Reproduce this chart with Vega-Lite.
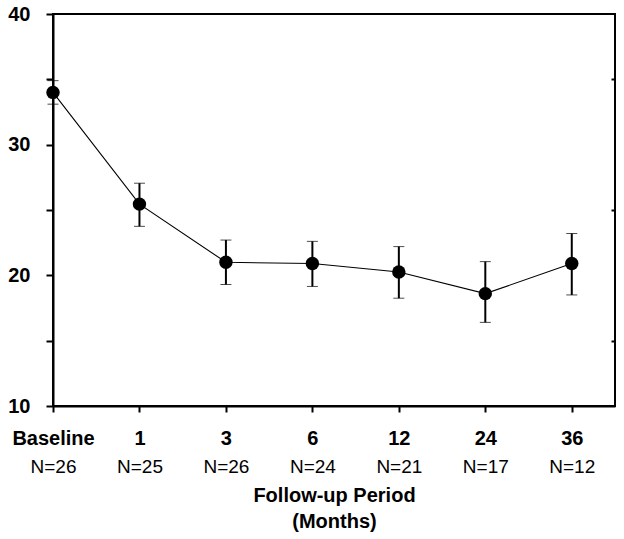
{
  "$schema": "https://vega.github.io/schema/vega-lite/v6.json",
  "width": 562,
  "height": 392,
  "autosize": {"type": "none"},
  "padding": {"left": 53, "top": 14, "right": 9, "bottom": 133},
  "background": "white",
  "config": {
    "font": "Liberation Sans",
    "view": {"stroke": "black", "strokeWidth": 2},
    "axis": {"grid": false, "domainColor": "black", "tickColor": "black", "labelColor": "black", "titleColor": "black"}
  },
  "data": {
    "values": [
      {"idx": 0, "period": "Baseline", "n": "N=26", "mean": 34.0, "lo": 33.1, "hi": 34.9},
      {"idx": 1, "period": "1", "n": "N=25", "mean": 25.45, "lo": 23.75, "hi": 27.05},
      {"idx": 2, "period": "3", "n": "N=26", "mean": 21.0, "lo": 19.3, "hi": 22.7},
      {"idx": 3, "period": "6", "n": "N=24", "mean": 20.9, "lo": 19.15, "hi": 22.6},
      {"idx": 4, "period": "12", "n": "N=21", "mean": 20.25, "lo": 18.25, "hi": 22.2},
      {"idx": 5, "period": "24", "n": "N=17", "mean": 18.6, "lo": 16.4, "hi": 21.05},
      {"idx": 6, "period": "36", "n": "N=12", "mean": 20.9, "lo": 18.5, "hi": 23.2}
    ]
  },
  "layer": [
    {
      "mark": {"type": "line", "color": "black", "strokeWidth": 1.1},
      "encoding": {
        "x": {"field": "idx", "type": "quantitative", "scale": {"domain": [0, 6.5], "nice": false, "zero": false},
          "axis": {"orient": "bottom", "values": [0, 1, 2, 3, 4, 5, 6], "labelExpr": "['Baseline','1','3','6','12','24','36'][datum.value]",
            "labelFontSize": 20, "labelFontWeight": "bold", "tickSize": 6, "tickWidth": 2, "domainWidth": 2, "labelPadding": 16, "labelFlush": false, "labelOverlap": false, "title": null}},
        "y": {"field": "mean", "type": "quantitative", "scale": {"domain": [10, 40], "nice": false, "zero": false},
          "axis": {"orient": "left", "values": [10, 15, 20, 25, 30, 35, 40], "labelExpr": "datum.value % 10 == 0 ? datum.label : ''",
            "labelFontSize": 20, "labelFontWeight": "bold", "tickSize": 7, "tickWidth": 2, "domainWidth": 2, "labelPadding": 16, "labelFlush": false, "labelOverlap": false, "title": null}}
      }
    },
    {
      "mark": {"type": "errorbar", "ticks": {"size": 11, "strokeWidth": 2, "color": "black"}, "rule": {"strokeWidth": 2, "color": "black"}},
      "encoding": {
        "x": {"field": "idx", "type": "quantitative", "axis": null},
        "y": {"field": "lo", "type": "quantitative", "axis": null},
        "y2": {"field": "hi"}
      }
    },
    {
      "mark": {"type": "point", "shape": "circle", "filled": true, "color": "black", "size": 180, "opacity": 1},
      "encoding": {
        "x": {"field": "idx", "type": "quantitative",
          "axis": {"orient": "bottom", "values": [0, 1, 2, 3, 4, 5, 6], "labelExpr": "['N=26','N=25','N=26','N=24','N=21','N=17','N=12'][datum.value]",
            "labelFontSize": 19, "labelFontWeight": "normal", "domain": false, "ticks": false, "labelPadding": 51, "labelFlush": false, "labelOverlap": false,
            "title": ["Follow-up Period", "(Months)"], "titleFontSize": 20, "titleFontWeight": "bold", "titlePadding": 9, "titleLineHeight": 26}},
        "y": {"field": "mean", "type": "quantitative",
          "axis": {"orient": "right", "values": [15, 25, 35], "labels": false, "tickSize": -4, "tickWidth": 2, "domain": false, "title": null}}
      }
    }
  ],
  "resolve": {"axis": {"x": "independent", "y": "independent"}}
}
